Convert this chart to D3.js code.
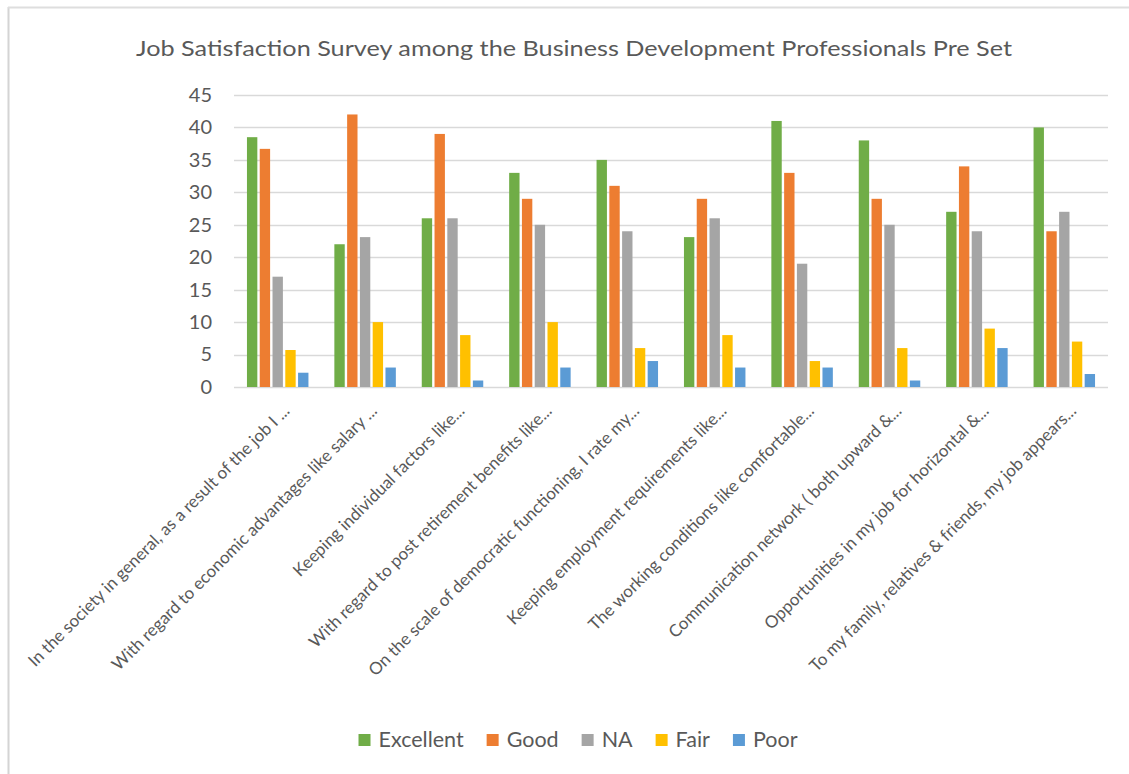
<!DOCTYPE html>
<html>
<head>
<meta charset="utf-8">
<script src="https://cdn.jsdelivr.net/npm/d3@7/dist/d3.min.js"></script>
<style>
  html, body { margin: 0; padding: 0; background: #ffffff; }
  svg { display: block; }
  text { font-family: Lato, "Open Sans", sans-serif; fill: #595959; }
</style>
</head>
<body>
<svg id="chart" width="1129" height="774"></svg>
<script>
// Survey questions (truncated as shown on the axis)
const categories = [
  "In the society in general, as a result of the job I ...",
  "With regard to economic advantages like salary ...",
  "Keeping individual factors like...",
  "With regard to post retirement benefits like...",
  "On the scale of democratic functioning, I rate my...",
  "Keeping employment requirements like...",
  "The working conditions like comfortable...",
  "Communication network ( both upward &...",
  "Opportunities in my job for horizontal &...",
  "To my family, relatives & friends, my job appears..."
];

const seriesNames = ["Excellent", "Good", "NA", "Fair", "Poor"];

const excellent = [38.5, 22, 26, 33, 35, 23.1, 41, 38, 27, 40];
const good      = [36.7, 42, 39, 29, 31, 29, 33, 29, 34, 24];
const na        = [17, 23.1, 26, 25, 24, 26, 19, 25, 24, 27];
const fair      = [5.7, 10, 8, 10, 6, 8, 4, 6, 9, 7];
const poor      = [2.2, 3, 1, 3, 4, 3, 3, 1, 6, 2];

const yTicks = [0, 5, 10, 15, 20, 25, 30, 35, 40, 45];

const seriesValues = [excellent, good, na, fair, poor];
const colors = ["#70AD47", "#ED7D31", "#A5A5A5", "#FFC000", "#5B9BD5"];

const svg = d3.select("#chart");
const W = 1129, H = 774;
const plot = { left: 234, right: 1108, top: 95, bottom: 387 };

// Chart frame (left and top edges visible)
svg.append("line").attr("x1", 8.5).attr("x2", 8.5).attr("y1", 7).attr("y2", H)
  .attr("stroke", "#d4d4d4").attr("stroke-width", 2);
svg.append("line").attr("x1", 8).attr("x2", W).attr("y1", 7.5).attr("y2", 7.5)
  .attr("stroke", "#dedede").attr("stroke-width", 2);

// Title
svg.append("text")
  .attr("x", 574).attr("y", 56)
  .attr("text-anchor", "middle")
  .attr("font-size", 21)
  .attr("textLength", 876)
  .attr("lengthAdjust", "spacingAndGlyphs")
  .text("Job Satisfaction Survey among the Business Development Professionals Pre Set");

const x0 = d3.scaleBand().domain(categories).range([plot.left, plot.right]).padding(0);
const x1 = d3.scaleBand().domain(seriesNames).range([0, x0.bandwidth()]).paddingInner(0).paddingOuter(0.92);
const y = d3.scaleLinear().domain([0, 45]).range([plot.bottom, plot.top]);

// Gridlines
svg.append("g").selectAll("line").data(yTicks).join("line")
  .attr("x1", plot.left).attr("x2", plot.right)
  .attr("y1", d => Math.round(y(d)) + 0.5).attr("y2", d => Math.round(y(d)) + 0.5)
  .attr("stroke", "#d9d9d9").attr("stroke-width", 1.3);

// Y axis labels
const yAxis = d3.axisLeft(y).tickValues(yTicks).tickSize(0).tickPadding(0);
const yg = svg.append("g").attr("transform", `translate(212,0)`).call(yAxis);
yg.select(".domain").remove();
yg.selectAll("text").attr("font-size", 20).attr("fill", "#595959")
  .style("font-family", "Lato, 'Open Sans', sans-serif");

// Bars
const groups = svg.append("g").selectAll("g").data(categories).join("g")
  .attr("transform", d => `translate(${x0(d)},0)`);

groups.selectAll("rect")
  .data((d, i) => seriesNames.map((s, k) => ({ s, k, v: seriesValues[k][i] })))
  .join("rect")
  .attr("x", d => x1(d.s) + 1.2)
  .attr("width", x1.bandwidth() - 2.4)
  .attr("y", d => y(d.v))
  .attr("height", d => y(0) - y(d.v))
  .attr("fill", d => colors[d.k]);

// X axis category labels, rotated
svg.append("g").selectAll("text").data(categories).join("text")
  .attr("transform", d => `translate(${x0(d) + x0.bandwidth() / 2 + 13},${plot.bottom + 25}) rotate(-45)`)
  .attr("text-anchor", "end")
  .attr("font-size", 17)
  .text(d => d);

// Legend
const legend = svg.append("g");
const items = legend.selectAll("g").data(seriesNames).join("g");
items.append("rect").attr("width", 12).attr("height", 12).attr("y", -13)
  .attr("fill", (d, i) => colors[i]);
items.append("text").attr("x", 20).attr("y", 0).attr("font-size", 21.5).text(d => d);
let cx = 0;
const pos = [];
items.each(function () {
  const w = 20 + this.querySelector("text").getComputedTextLength();
  pos.push(cx);
  cx += w + 23;
});
const total = cx - 23;
const startX = 578 - total / 2;
items.attr("transform", (d, i) => `translate(${startX + pos[i]},${747})`);
</script>
</body>
</html>
